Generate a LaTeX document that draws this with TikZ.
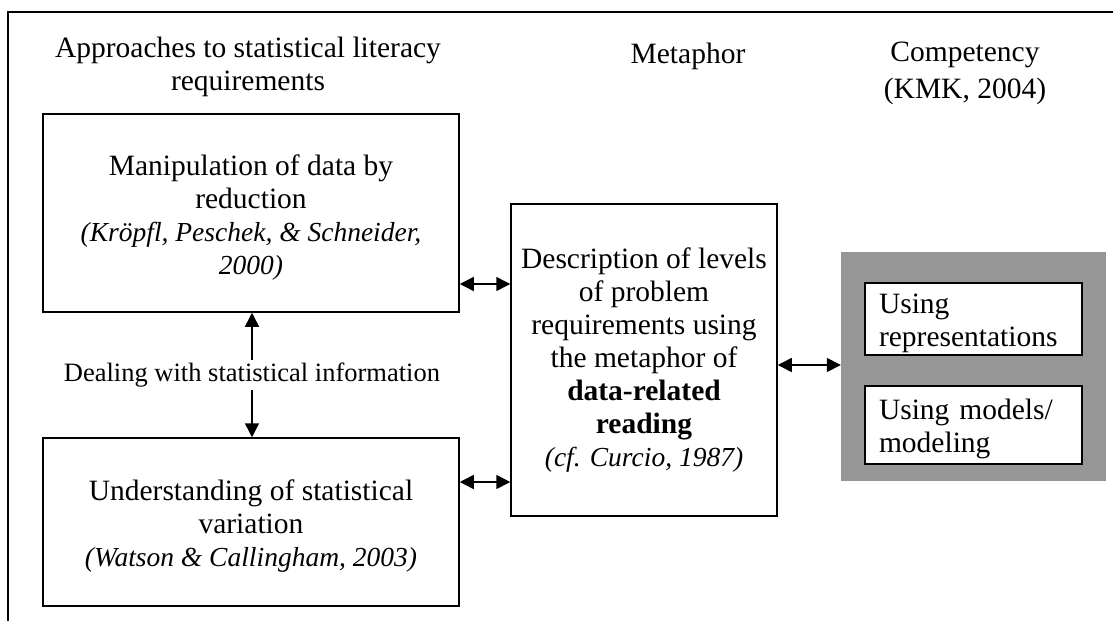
\documentclass[tikz,border=0pt]{standalone}
\usepackage{fontspec}
\setmainfont{Liberation Serif}
\usetikzlibrary{arrows.meta}
\definecolor{panelgray}{RGB}{150,150,150}
\newcommand{\refcite}[1]{{\fontsize{27.5}{33}\selectfont\itshape #1}}
\newcommand{\topstrut}[1]{\rule{0pt}{#1}}
\begin{document}
\begin{tikzpicture}[x=1pt, y=-1pt]
        \tikzstyle{line} = [{Triangle[length=14pt,width=14pt]}-{Triangle[length=14pt,width=14pt]}, line width=1.5pt]
        \tikzstyle{rec} = [rectangle, draw=black, line width=1.5pt, align=center, inner sep=0pt]
        \tikzstyle{small} = [rectangle, draw=black, fill=white, line width=1.5pt, align=left, inner xsep=14pt, inner ysep=0pt]
        \tikzstyle{head} = [align=center, inner sep=0pt]

        \useasboundingbox (0,0) rectangle (1113,621);
        \draw[line width=1.5pt] (8,621) -- (8,12) -- (1113,12);

        \begin{scope}[font=\fontsize{29.5}{33}\selectfont]
        \node(approach) [head, anchor=north] at (248,37) {Approaches to statistical literacy\\requirements};
        \node(metaphor) [head, anchor=base] at (688,63) {Metaphor};
        \node(compet) [head, anchor=north] at (965,42) {Competency\\[4pt](KMK, 2004)};

        \node(manip) [rec, minimum width=416pt, minimum height=198pt] at (251,213)
        {\topstrut{30pt}Manipulation of data by\\ reduction\\ \refcite{(Kröpfl, Peschek, \& Schneider,}\\ \refcite{2000)}};
        \node(underst) [rec, minimum width=416pt, minimum height=168pt] at (251,522)
        {\topstrut{29pt}Understanding of statistical\\ variation\\ \refcite{(Watson \& Callingham, 2003)}};
        \node(descr) [rec, minimum width=266pt, minimum height=312pt] at (644,360)
        {Description of levels\\ of problem\\ requirements using\\ the metaphor of\\
        \textbf{data-related}\\ \textbf{reading}\\ \refcite{(cf. Curcio, 1987)}};

        \node(panel) [rectangle, fill=panelgray, minimum width=265pt, minimum height=229pt] at (973.5,366.5) {};
        \node(repr) [small, text width=189pt, minimum height=72pt] at (973.5,319) {\topstrut{28pt}Using\\representations};
        \node(models) [small, text width=189pt, minimum height=78pt] at (973.5,425) {\topstrut{28pt}Using models/\\modeling};
        \end{scope}

        \draw[line] ([yshift=-71pt]manip.east) -- ([yshift=-71pt]manip.east -| descr.west);
        \draw[line] ([yshift=40pt]underst.east) -- ([yshift=40pt]underst.east -| descr.west);
        \draw[line] ([yshift=-5pt]descr.east) -- ([yshift=-5pt]descr.east -| panel.west);
        \draw[line] ([xshift=1pt]manip.south) -- node[midway, fill=white, inner xsep=2pt, inner ysep=3pt,
        font=\fontsize{26.5}{30}\selectfont] {Dealing with statistical information} ([xshift=1pt]underst.north);
    \end{tikzpicture}
\end{document}
